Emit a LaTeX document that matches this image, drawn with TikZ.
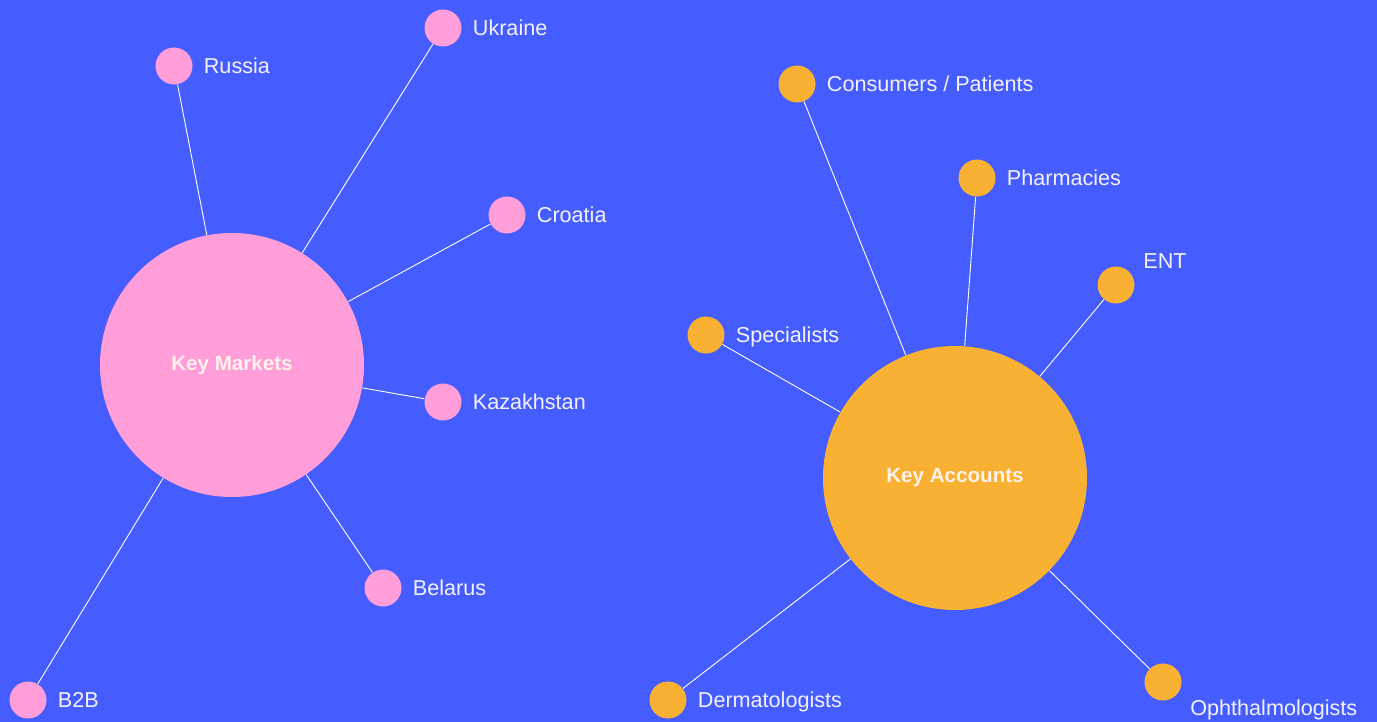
\documentclass[tikz,border=0pt]{standalone}
\usepackage{fontspec}
\setmainfont{Liberation Sans}
\usetikzlibrary{positioning}

\definecolor{bgblue}{HTML}{455CFF}
\definecolor{mktpink}{HTML}{FF9ED8}
\definecolor{accorange}{HTML}{F9B134}
\definecolor{tagtext}{HTML}{F4F1FF}
\definecolor{hubtext}{HTML}{FFF1EA}

\tikzstyle{market} = [circle, fill=mktpink, inner sep=0pt, minimum size=18.5pt]
\tikzstyle{account} = [circle, fill=accorange, inner sep=0pt, minimum size=18.5pt]
\tikzstyle{hub} = [circle, inner sep=0pt, minimum size=132pt, text=hubtext,
  font=\fontsize{10.3}{12}\selectfont\bfseries]
\tikzstyle{tag} = [text=tagtext, inner sep=0pt, text height=7.8pt,
  text depth=0pt, font=\fontsize{10.8}{13}\selectfont]
\tikzstyle{spoke} = [draw=white, line width=0.45pt]

\begin{document}
\begin{tikzpicture}[x=0.5pt, y=-0.5pt]
        \fill[bgblue] (0,0) rectangle (1377,722);
        \useasboundingbox (0,0) rectangle (1377,722);

        % key markets
        \node [hub, fill=mktpink] (markets)    at (232,365) {Key Markets};
        \node [market]            (russia)     at (174, 66) {};
        \node [market]            (ukraine)    at (443, 28) {};
        \node [market]            (croatia)    at (507,215) {};
        \node [market]            (kazakhstan) at (443,402) {};
        \node [market]            (belarus)    at (383,588) {};
        \node [market]            (btob)       at ( 28,700) {};

        \node [tag, right=5.3pt of russia]     (russialbl)     {Russia};
        \node [tag, right=5.3pt of ukraine]    (ukrainelbl)    {Ukraine};
        \node [tag, right=5.3pt of croatia]    (croatialbl)    {Croatia};
        \node [tag, right=5.3pt of kazakhstan] (kazakhstanlbl) {Kazakhstan};
        \node [tag, right=5.3pt of belarus]    (belaruslbl)    {Belarus};
        \node [tag, right=5.3pt of btob]       (btoblbl)       {B2B};

        % key accounts
        \node [hub, fill=accorange] (accounts)   at (955,478) {Key Accounts};
        \node [account]             (consumers)  at (797, 84) {};
        \node [account]             (pharmacies) at (977,178) {};
        \node [account]             (ent)        at (1116,285) {};
        \node [account]             (specialists) at (706,335) {};
        \node [account]             (dermatol)   at (668,700) {};
        \node [account]             (ophthal)    at (1163,682) {};

        \node [tag, right=5.3pt of consumers]   (consumerslbl)   {Consumers / Patients};
        \node [tag, right=5.3pt of pharmacies]  (pharmacieslbl)  {Pharmacies};
        \node [tag, above right=1.5pt and 6.8pt of ent] (entlbl) {ENT};
        \node [tag, right=5.3pt of specialists] (specialistslbl) {Specialists};
        \node [tag, right=5.3pt of dermatol]    (dermatollbl)    {Dermatologists};
        \node [tag, below right=2pt and 6.8pt of ophthal] (ophthallbl) {Ophthalmologists};

        \foreach \leaf in {russia, ukraine, croatia, kazakhstan, belarus, btob}
          \draw[spoke] (markets) -- (\leaf);
        \foreach \leaf in {consumers, pharmacies, ent, specialists, dermatol, ophthal}
          \draw[spoke] (accounts) -- (\leaf);
      \end{tikzpicture}
\end{document}
